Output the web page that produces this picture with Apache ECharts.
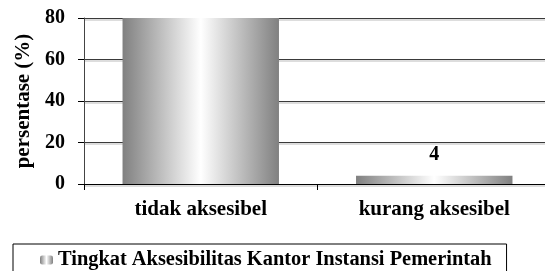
<!DOCTYPE html>
<html>
<head>
<meta charset="utf-8">
<script src="https://cdn.jsdelivr.net/npm/echarts@6/dist/echarts.min.js"></script>
<style>
html, body { margin: 0; padding: 0; background: #fff; }
#chart { width: 545px; height: 271px; }
</style>
</head>
<body>
<div id="chart"></div>
<script>
const categories = ["tidak aksesibel", "kurang aksesibel"];
const values = [96, 4];
const seriesName = "Tingkat Aksesibilitas Kantor Instansi Pemerintah";
const font = "'Liberation Serif', 'Times New Roman', serif";

const barColor = {
   type: "linear", x: 0, y: 0, x2: 1, y2: 0,
   colorStops: [
      { offset: 0, color: "#808080" },
      { offset: 0.5, color: "#ffffff" },
      { offset: 1, color: "#808080" }
   ]
};

const chart = echarts.init(document.getElementById("chart"));
chart.setOption({
   animation: false,
   grid: { left: 84, width: 467, top: 18, bottom: 87, outerBoundsMode: "none" },
   xAxis: {
      type: "category",
      data: categories,
      axisLine: { lineStyle: { color: "#000", width: 1 } },
      axisTick: { show: true, length: 6, lineStyle: { color: "#000" } },
      axisLabel: {
         color: "#000", fontFamily: font, fontWeight: "bold", fontSize: 21, margin: 15
      }
   },
   yAxis: {
      type: "value",
      min: 0, max: 80, interval: 20,
      name: "persentase (%)",
      nameLocation: "middle",
      nameGap: 46,
      nameTextStyle: { color: "#000", fontFamily: font, fontWeight: "bold", fontSize: 21 },
      axisLine: { show: true, lineStyle: { color: "#444", width: 1 } },
      axisTick: { show: true, length: 6, lineStyle: { color: "#000" } },
      axisLabel: { color: "#000", fontFamily: font, fontWeight: "bold", fontSize: 20, margin: 19 },
      splitLine: {
         show: true,
         lineStyle: { color: "#3a3a3a", width: 1, shadowColor: "#bbb", shadowOffsetY: 1.5 }
      }
   },
   legend: {
      left: 13, top: 244,
      itemWidth: 13, itemHeight: 9, itemGap: 5,
      borderColor: "#000", borderWidth: 1,
      padding: [6, 15, 12, 27],
      textStyle: { color: "#000", fontFamily: font, fontWeight: "bold", fontSize: 20.4 },
      data: [seriesName]
   },
   series: [{
      name: seriesName,
      type: "bar",
      data: values.map((v, i) => ({
         value: v,
         label: { show: i === 1 }
      })),
      barWidth: "67%",
      itemStyle: { color: barColor },
      label: {
         position: "top", distance: 11, color: "#000",
         fontFamily: font, fontWeight: "bold", fontSize: 20
      }
   }]
});
</script>
</body>
</html>
